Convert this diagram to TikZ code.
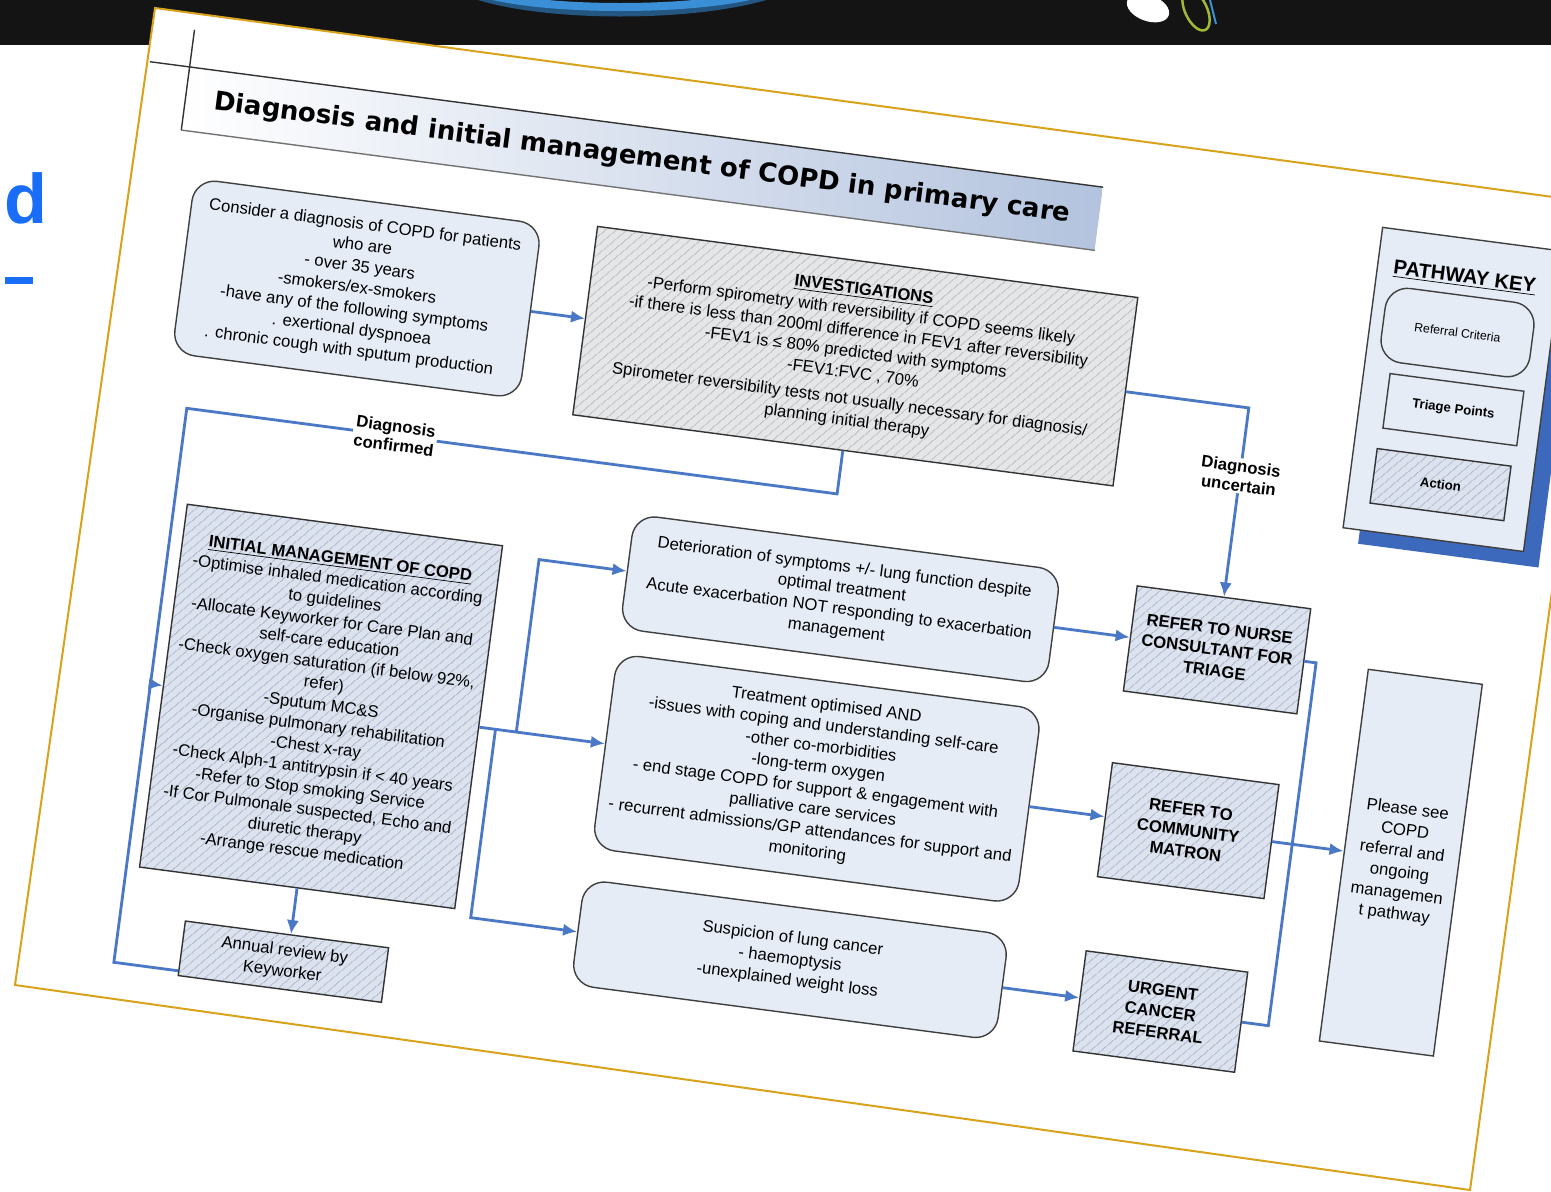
\documentclass[tikz,border=0pt]{standalone}
\usepackage{fontspec}
\setmainfont{Liberation Sans}
\newfontfamily\titlefont{DejaVu Sans}
\usepackage{tikz}
\usetikzlibrary{arrows.meta, patterns.meta, shadows}

\definecolor{flowblue}{HTML}{4A78C6}
\definecolor{critfill}{HTML}{E6ECF6}
\definecolor{hatchfill}{HTML}{DCE3EE}
\definecolor{hatchline}{HTML}{95A3BE}
\definecolor{greyfill}{HTML}{E4E6E8}
\definecolor{greyline}{HTML}{A7ABAE}
\definecolor{pageedge}{HTML}{D9A21B}
\definecolor{barblack}{HTML}{141414}
\definecolor{arcblue}{HTML}{3A8FD6}
\definecolor{slideblue}{HTML}{1A6DF7}
\definecolor{bannerblue}{HTML}{B3C3DE}
\definecolor{keyshadow}{HTML}{3D69BD}

\newcommand\boxfont{\fontsize{9.5}{12}\selectfont}

\tikzset{
    critbox/.style={draw=black!75, line width=0.8pt, fill=critfill, rounded corners=0.45cm, align=center, font=\boxfont, inner sep=2pt},
    actbox/.style={draw=black!80, line width=0.8pt, preaction={fill=hatchfill}, pattern={Lines[angle=40, distance=4pt, line width=0.4pt]}, pattern color=hatchline, align=center, font=\boxfont, inner sep=2pt},
    greybox/.style={actbox, preaction={fill=greyfill}, pattern color=greyline},
    pointbox/.style={draw=black!75, line width=0.8pt, fill=critfill, align=center, font=\boxfont, inner sep=2pt},
    flow/.style={draw=flowblue, line width=1.6pt, -{Latex[length=8pt, width=7pt]}},
    flowline/.style={draw=flowblue, line width=1.6pt},
    lbl/.style={fill=white, font=\bfseries\fontsize{9.5}{11}\selectfont, align=center, inner sep=1pt}
}

\begin{document}
\begin{tikzpicture}[x=0.02cm, y=-0.02cm]
    \useasboundingbox (0, 0) rectangle (1551, 1191);
    \clip (0, 0) rectangle (1551, 1191);

    % slide behind the photo
    \fill[barblack] (0, 0) rectangle (1551, 45);
    \draw[arcblue!60!black, line width=0.2cm] (470, -8) .. controls (540, 18) and (700, 18) .. (775, -8);
    \draw[arcblue, line width=0.16cm] (478, -8) .. controls (540, 12) and (700, 12) .. (765, -8);
    \fill[white, rotate around={-20:(1148, 8)}] (1148, 8) ellipse (22 and 13);
    \draw[yellow!70!green!80!black, line width=0.05cm, rotate around={25:(1196, 10)}] (1196, 10) ellipse (11 and 22);
    \draw[arcblue, line width=0.04cm] (1210, 0) -- (1216, 24);
    \node[anchor=base east, inner sep=0, text=slideblue, font=\bfseries\fontsize{40}{40}\selectfont] (slidehead) at (48, 223) {nd};
    \fill[slideblue] (5, 277) rectangle (33, 284);

    % the page
    \filldraw[fill=white, draw=pageedge, line width=0.04cm] (155, 8) -- (1605, 204) -- (1470, 1190) -- (15, 985) -- cycle;

    \begin{scope}[rotate around={-7.5:(800, 600)}, transform shape]
        % title
        \node[minimum width=18.42cm, minimum height=1.26cm, left color=white, right color=bannerblue, inner sep=0, font=\titlefont\bfseries\fontsize{14.8}{16}\selectfont] (title) at (586, 183) {Diagnosis and initial management of COPD in primary care};
        \draw[black!80, line width=0.8pt] ([xshift=-0.8cm]title.north west) -- (title.north east);
        \draw[black!80, line width=0.8pt] ([yshift=0.75cm]title.north west) -- (title.south west);
        \draw[black!55, line width=0.8pt] (title.south west) -- (title.south east);

        % boxes
        \node[critbox, minimum width=7cm, minimum height=3.52cm] (consider) at (320, 349) {Consider a diagnosis of COPD for patients\\ who are\\ - over 35 years\\ -smokers/ex-smokers\\ -have any of the following symptoms\\ . exertional dyspnoea\\ . chronic cough with sputum production};
        \node[greybox, minimum width=10.9cm, minimum height=3.8cm] (invest) at (823, 351) {\underline{\textbf{INVESTIGATIONS}}\\ -Perform spirometry with reversibility if COPD seems likely\\ -if there is less than 200ml difference in FEV1 after reversibility\\ -FEV1 is ≤ 80\% predicted with symptoms\\ -FEV1:FVC , 70\%\\[3pt] Spirometer reversibility tests not usually necessary for diagnosis/\\ planning initial therapy};
        \node[actbox, minimum width=6.36cm, minimum height=7.32cm] (init) at (339, 768) {\underline{\textbf{INITIAL MANAGEMENT OF COPD}}\\ -Optimise inhaled medication according\\ to guidelines\\ -Allocate Keyworker for Care Plan and\\ self-care education\\ -Check oxygen saturation (if below 92\%,\\ refer)\\ -Sputum MC\&S\\ -Organise pulmonary rehabilitation\\ -Chest x-ray\\ -Check Alph-1 antitrypsin if < 40 years\\ -Refer to Stop smoking Service\\ -If Cor Pulmonale suspected,\ Echo and\\ diuretic therapy\\ -Arrange rescue medication};
        \node[actbox, minimum width=4.1cm, minimum height=1.1cm] (annual) at (335, 1026) {Annual review by\\ Keyworker};
        \node[critbox, minimum width=8.6cm, minimum height=2.3cm] (deter) at (840, 594) {Deterioration of symptoms +/- lung function despite\\ optimal treatment\\ Acute exacerbation NOT responding to exacerbation\\ management};
        \node[critbox, minimum width=8.56cm, minimum height=3.92cm] (treat) at (840, 775) {Treatment optimised AND\\ -issues with coping and understanding self-care\\ -other co-morbidities\\ -long-term oxygen\\ - end stage COPD for support \& engagement with\\ palliative care services\\ - recurrent admissions/GP attendances for support and\\ monitoring};
        \node[critbox, minimum width=8.56cm, minimum height=2.12cm] (susp) at (837, 958) {Suspicion of lung cancer\\ - haemoptysis\\ -unexplained weight loss};
        \node[actbox, font=\boxfont\bfseries, minimum width=3.5cm, minimum height=2.12cm] (nurse) at (1220, 595) {REFER TO NURSE\\ CONSULTANT FOR\\ TRIAGE};
        \node[actbox, font=\boxfont\bfseries, minimum width=3.36cm, minimum height=2.3cm] (matron) at (1215, 778) {REFER TO\\ COMMUNITY\\ MATRON};
        \node[actbox, font=\boxfont\bfseries, minimum width=3.26cm, minimum height=2.02cm] (urgent) at (1211, 961) {URGENT\\ CANCER\\ REFERRAL};
        \node[pointbox, minimum width=2.3cm, minimum height=7.5cm] (please) at (1430, 782) {Please see\\ COPD\\ referral and\\ ongoing\\ managemen\\ t pathway};

        % key
        \node[pointbox, minimum width=3.64cm, minimum height=6.06cm, drop shadow={shadow xshift=0.3cm, shadow yshift=-0.32cm, fill=keyshadow, opacity=1}] (key) at (1420, 306) {};
        \node[font=\bfseries\fontsize{11.5}{13}\selectfont] (keyhead) at (1417, 194) {\underline{PATHWAY KEY}};
        \node[critbox, font=\fontsize{7}{8}\selectfont, minimum width=3cm, minimum height=1.5cm] (keycrit) at (1417, 249) {Referral Criteria};
        \node[pointbox, font=\bfseries\fontsize{7.5}{8}\selectfont, minimum width=2.7cm, minimum height=1.1cm] (keypoint) at (1423, 326) {Triage Points};
        \node[actbox, font=\bfseries\fontsize{7.5}{8}\selectfont, minimum width=2.7cm, minimum height=1.1cm] (keyact) at (1420, 402) {Action};

        % connectors
        \coordinate (conf) at (167, 490);
        \coordinate (rev) at ([yshift=3pt]annual.south west);
        \coordinate (b1) at (536, 768);
        \coordinate (b2) at (515, 768);
        \coordinate (rv) at (1320, 595);

        \draw[flow] (consider.east) -- (consider.east -| invest.west);
        \draw[flowline] (invest.south) |- node[lbl, pos=0.84] {Diagnosis\\confirmed} (conf) |- (rev);
        \draw[flow] (conf |- init.west) -- (init.west);
        \draw[flow] (init.south) -- (init.south |- annual.north);
        \draw[flow] (init.east) -- (init.east -| treat.west);
        \draw[flow] (b1) |- (deter.west);
        \draw[flow] (b2) |- (susp.west);
        \draw[flow] (invest.east) -| node[lbl, pos=0.68] {Diagnosis\\uncertain} (nurse.north);
        \draw[flow] (deter.east) -- (deter.east -| nurse.west);
        \draw[flow] (treat.east) -- (treat.east -| matron.west);
        \draw[flow] (susp.east) -- (susp.east -| urgent.west);
        \draw[flowline] (nurse.east) -- (rv) -- (rv |- urgent.east) -- (urgent.east);
        \draw[flow] (matron.east) -- (matron.east -| please.west);
    \end{scope}
\end{tikzpicture}
\end{document}
